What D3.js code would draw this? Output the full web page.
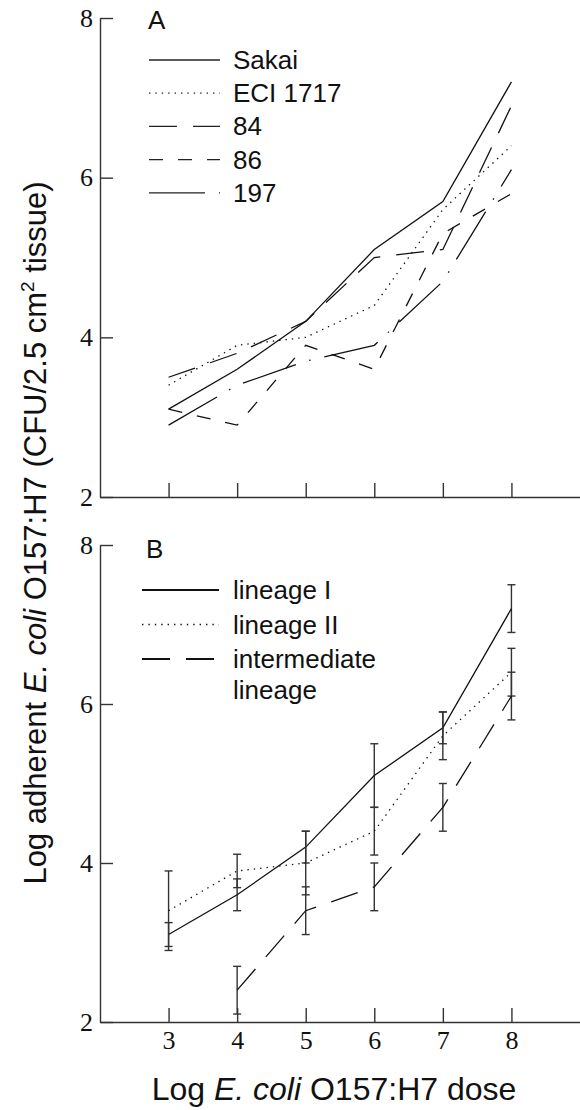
<!DOCTYPE html>
<html><head><meta charset="utf-8">
<script src="https://cdn.jsdelivr.net/npm/d3@7"></script>
<style>body{margin:0;background:#fff}svg{display:block}</style>
</head><body>
<script>
// ---- data ----
const doses = [3, 4, 5, 6, 7, 8];
const yTicks = [2, 4, 6, 8];
const strainNames = ["Sakai", "ECI 1717", "84", "86", "197"];
const sakai   = [3.1, 3.6, 4.2, 5.1, 5.7, 7.2];
const eci1717 = [3.4, 3.9, 4.0, 4.4, 5.6, 6.4];
const s84     = [3.5, 3.8, 4.2, 5.0, 5.1, 6.9];
const s86     = [3.1, 2.9, 3.9, 3.6, 5.3, 5.8];
const s197    = [2.9, 3.4, 3.7, 3.9, 4.7, 6.1];

const lineageNames = ["lineage I", "lineage II", "intermediate", "lineage"];
const lin1Mean = [3.1, 3.6, 4.2, 5.1, 5.7, 7.2];
const lin1Err  = [0.15, 0.2, 0.2, 0.4, 0.2, 0.3];
const lin2Mean = [3.4, 3.9, 4.0, 4.4, 5.6, 6.4];
const lin2Err  = [0.5, 0.21, 0.4, 0.3, 0.3, 0.3];
const intDoses = [4, 5, 6, 7, 8];
const intMean  = [2.4, 3.4, 3.7, 4.7, 6.1];
const intErr   = [0.3, 0.3, 0.3, 0.3, 0.3];

// ---- setup ----
const W = 580, H = 1110;
const svg = d3.select("body").append("svg").attr("width", W).attr("height", H);
const x = d3.scaleLinear().domain([2, 9]).range([100, 580]);
const yA = d3.scaleLinear().domain([2, 8]).range([497, 18]);
const yB = d3.scaleLinear().domain([2, 8]).range([1022, 545]);

const DOT = "1.4,5", LDASH = "28,16", SDASH = "14,15", DASHDOT = "56,14,1.5,14";
const sans = "'Liberation Sans', Arial, sans-serif";
const serif = "'Liberation Serif', 'Times New Roman', serif";

function drawAxes(y, labels) {
  const ay = svg.append("g").attr("transform", `translate(${x.range()[0]},0)`)
    .call(d3.axisLeft(y).tickValues(yTicks).tickSize(-13).tickSizeOuter(0).tickPadding(7).tickFormat(d3.format("d")));
  const ax = svg.append("g").attr("transform", `translate(0,${y.range()[0]})`)
    .call(d3.axisBottom(x).tickValues(doses).tickSize(-14).tickSizeOuter(0).tickPadding(9)
      .tickFormat(labels ? d3.format("d") : () => ""));
  [ay, ax].forEach(g => {
    g.selectAll("path,line").attr("stroke", "#333").attr("stroke-width", 1.4);
    g.selectAll("text").attr("fill", "#111").style("font-family", serif).style("font-size", "26px");
  });
}

function line(y) {
  return d3.line().x(d => x(d[0])).y(d => y(d[1]));
}

// ---- Panel A ----
drawAxes(yA, false);
const seriesA = [
  {name: strainNames[0], v: sakai, dash: null},
  {name: strainNames[1], v: eci1717, dash: DOT},
  {name: strainNames[2], v: s84, dash: LDASH},
  {name: strainNames[3], v: s86, dash: SDASH},
  {name: strainNames[4], v: s197, dash: DASHDOT}
];
seriesA.forEach(s => {
  svg.append("path").datum(doses.map((d, i) => [d, s.v[i]]))
    .attr("d", line(yA)).attr("fill", "none").attr("stroke", "#111")
    .attr("stroke-width", 1.3).attr("stroke-dasharray", s.dash);
});
svg.append("text").attr("x", 148).attr("y", 29).text("A")
  .style("font-family", sans).style("font-size", "26px").attr("fill", "#111");
const legA = svg.append("g");
seriesA.forEach((s, i) => {
  const ly = 60 + i * 33.2;
  legA.append("line").attr("x1", 149).attr("x2", 220).attr("y1", ly).attr("y2", ly)
    .attr("stroke", "#222").attr("stroke-width", 1.3).attr("stroke-dasharray", s.dash);
  legA.append("text").attr("x", 233).attr("y", ly + 9).text(s.name)
    .style("font-family", sans).style("font-size", "26px").attr("fill", "#111");
});

// ---- Panel B ----
drawAxes(yB, true);
const seriesB = [
  {xs: doses, m: lin1Mean, e: lin1Err, dash: null},
  {xs: doses, m: lin2Mean, e: lin2Err, dash: DOT},
  {xs: intDoses, m: intMean, e: intErr, dash: LDASH}
];
seriesB.forEach(s => {
  const g = svg.append("g");
  s.xs.forEach((d, i) => {
    const lo = yB(s.m[i] - s.e[i]), hi = yB(s.m[i] + s.e[i]), cx = x(d);
    g.append("line").attr("x1", cx).attr("x2", cx).attr("y1", lo).attr("y2", hi);
    g.append("line").attr("x1", cx - 4).attr("x2", cx + 4).attr("y1", lo).attr("y2", lo);
    g.append("line").attr("x1", cx - 4).attr("x2", cx + 4).attr("y1", hi).attr("y2", hi);
  });
  g.selectAll("line").attr("stroke", "#333").attr("stroke-width", 1.4);
  svg.append("path").datum(s.xs.map((d, i) => [d, s.m[i]]))
    .attr("d", line(yB)).attr("fill", "none").attr("stroke", "#111")
    .attr("stroke-width", 1.3).attr("stroke-dasharray", s.dash);
});
svg.append("text").attr("x", 146).attr("y", 558).text("B")
  .style("font-family", sans).style("font-size", "26px").attr("fill", "#111");
const legB = svg.append("g");
seriesB.forEach((s, i) => {
  const ly = 590 + i * 34.5;
  legB.append("line").attr("x1", 142).attr("x2", 219).attr("y1", ly).attr("y2", ly)
    .attr("stroke", "#111").attr("stroke-width", s.dash === DOT ? 1.3 : 2).attr("stroke-dasharray", s.dash);
  legB.append("text").attr("x", 233).attr("y", ly + 9).text(lineageNames[i])
    .style("font-family", sans).style("font-size", "26px").attr("fill", "#111");
});
legB.append("text").attr("x", 233).attr("y", 590 + 2 * 34.5 + 9 + 31).text(lineageNames[3])
  .style("font-family", sans).style("font-size", "26px").attr("fill", "#111");

// ---- axis titles ----
const xt = svg.append("text").attr("x", 334).attr("y", 1100).attr("text-anchor", "middle")
  .style("font-family", sans).style("font-size", "32px").attr("fill", "#111");
xt.append("tspan").text("Log ");
xt.append("tspan").style("font-style", "italic").text("E. coli");
xt.append("tspan").text(" O157:H7 dose");

const yt = svg.append("text").attr("transform", "translate(46,533) rotate(-90)").attr("text-anchor", "middle")
  .style("font-family", sans).style("font-size", "31px").attr("fill", "#111");
yt.append("tspan").text("Log adherent ");
yt.append("tspan").style("font-style", "italic").text("E. coli");
yt.append("tspan").text(" O157:H7 (CFU/2.5 cm");
yt.append("tspan").attr("dy", -12).style("font-size", "19px").text("2");
yt.append("tspan").attr("dy", 12).text(" tissue)");
</script>
</body></html>
